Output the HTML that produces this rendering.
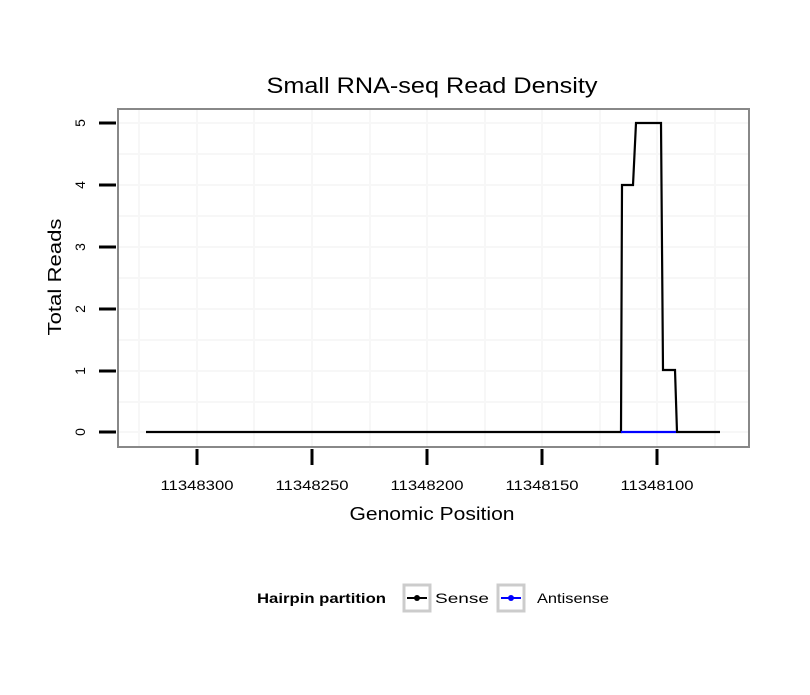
<!DOCTYPE html>
<html><head><style>body{margin:0;background:#fff}</style></head><body>
<svg width="810" height="690" xmlns="http://www.w3.org/2000/svg" font-family="Liberation Sans, sans-serif">
<rect width="810" height="690" fill="#fff"/>
<g stroke="#f7f7f7" stroke-width="2">
<line x1="118" x2="748" y1="154" y2="154"/><line x1="118" x2="748" y1="216" y2="216"/><line x1="118" x2="748" y1="278" y2="278"/><line x1="118" x2="748" y1="340" y2="340"/><line x1="118" x2="748" y1="402" y2="402"/>
<line x1="118" x2="748" y1="123" y2="123"/><line x1="118" x2="748" y1="185" y2="185"/><line x1="118" x2="748" y1="247" y2="247"/><line x1="118" x2="748" y1="309" y2="309"/><line x1="118" x2="748" y1="371" y2="371"/><line x1="118" x2="748" y1="432" y2="432"/>
<line y1="109" y2="446" x1="139" x2="139"/><line y1="109" y2="446" x1="254" x2="254"/><line y1="109" y2="446" x1="370" x2="370"/><line y1="109" y2="446" x1="485" x2="485"/><line y1="109" y2="446" x1="600" x2="600"/><line y1="109" y2="446" x1="715" x2="715"/>
<line y1="109" y2="446" x1="197" x2="197"/><line y1="109" y2="446" x1="312" x2="312"/><line y1="109" y2="446" x1="427" x2="427"/><line y1="109" y2="446" x1="542" x2="542"/><line y1="109" y2="446" x1="657" x2="657"/>
</g>
<polyline fill="none" stroke="#000" stroke-width="2.2" points="146,432 621,432 622,185 633,185 636,123 661,123 663,370 675,370 677,432 720,432"/>
<line x1="621" x2="676" y1="432" y2="432" stroke="#00f" stroke-width="2.2"/>
<rect x="118" y="109" width="631" height="338" fill="none" stroke="#888" stroke-width="2"/>
<g stroke="#000" stroke-width="3">
<line x1="99" x2="116" y1="123" y2="123"/><line x1="99" x2="116" y1="185" y2="185"/><line x1="99" x2="116" y1="247" y2="247"/><line x1="99" x2="116" y1="309" y2="309"/><line x1="99" x2="116" y1="371" y2="371"/><line x1="99" x2="116" y1="432" y2="432"/>
<line y1="449" y2="465" x1="197" x2="197"/><line y1="449" y2="465" x1="312" x2="312"/><line y1="449" y2="465" x1="427" x2="427"/><line y1="449" y2="465" x1="542" x2="542"/><line y1="449" y2="465" x1="657" x2="657"/>
</g>
<g font-size="14" text-anchor="middle" fill="#000">
<text transform="translate(85,123) rotate(-90)">5</text><text transform="translate(85,185) rotate(-90)">4</text><text transform="translate(85,247) rotate(-90)">3</text><text transform="translate(85,309) rotate(-90)">2</text><text transform="translate(85,371) rotate(-90)">1</text><text transform="translate(85,432) rotate(-90)">0</text>
<text x="197" y="490" textLength="73" lengthAdjust="spacingAndGlyphs">11348300</text><text x="312" y="490" textLength="73" lengthAdjust="spacingAndGlyphs">11348250</text><text x="427" y="490" textLength="73" lengthAdjust="spacingAndGlyphs">11348200</text><text x="542" y="490" textLength="73" lengthAdjust="spacingAndGlyphs">11348150</text><text x="657" y="490" textLength="73" lengthAdjust="spacingAndGlyphs">11348100</text>
</g>
<text x="432" y="93" font-size="22" text-anchor="middle" textLength="331" lengthAdjust="spacingAndGlyphs">Small RNA-seq Read Density</text>
<text x="432" y="520" font-size="18" text-anchor="middle" textLength="165" lengthAdjust="spacingAndGlyphs">Genomic Position</text>
<text transform="translate(61,277) rotate(-90)" font-size="18" text-anchor="middle" textLength="117" lengthAdjust="spacingAndGlyphs">Total Reads</text>
<text x="257" y="603" font-size="14" font-weight="bold" textLength="129" lengthAdjust="spacingAndGlyphs">Hairpin partition</text>
<rect x="404" y="585" width="26" height="26" fill="#fff" stroke="#ccc" stroke-width="3"/>
<line x1="407" x2="427" y1="598" y2="598" stroke="#000" stroke-width="2"/><circle cx="417" cy="598" r="3" fill="#000"/>
<text x="435" y="603" font-size="14" textLength="54" lengthAdjust="spacingAndGlyphs">Sense</text>
<rect x="498" y="585" width="26" height="26" fill="#fff" stroke="#ccc" stroke-width="3"/>
<line x1="501" x2="521" y1="598" y2="598" stroke="#00f" stroke-width="2"/><circle cx="511" cy="598" r="3" fill="#00f"/>
<text x="537" y="603" font-size="14" textLength="72" lengthAdjust="spacingAndGlyphs">Antisense</text>
</svg>
</body></html>
